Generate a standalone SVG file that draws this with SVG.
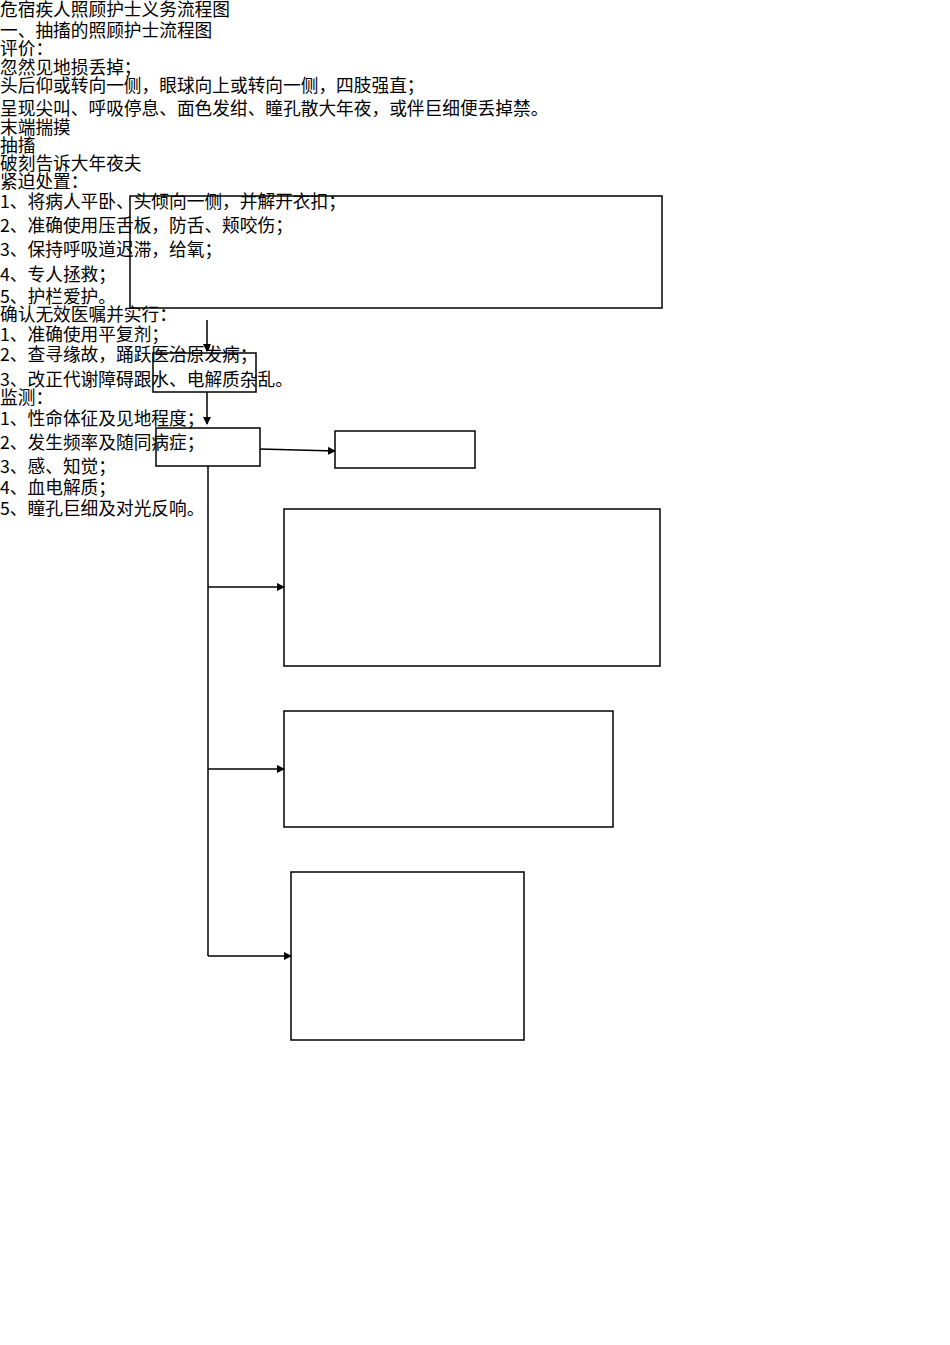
<svg xmlns="http://www.w3.org/2000/svg" width="950" height="1345" viewBox="0 0 950 1345">
<style>
text{font-family:"Noto Sans CJK SC","Liberation Sans",sans-serif;font-size:17.7px;fill:#000}
.b{fill:none;stroke:#000;stroke-width:1.5}
.c{fill:none;stroke:#000;stroke-width:1.5}
</style>
<defs><marker id="a" markerWidth="8" markerHeight="8" refX="7" refY="4" orient="auto" markerUnits="userSpaceOnUse"><path d="M0,0L8,4L0,8z"/></marker></defs>
<rect width="950" height="1345" fill="#fff"/>
<g id="n1"><rect class="b" x="130" y="196" width="532" height="112"/></g>
<g id="n2"><rect class="b" x="153" y="353" width="103" height="39"/></g>
<g id="n3"><rect class="b" x="156" y="428" width="104" height="38"/></g>
<g id="n4"><rect class="b" x="335" y="431" width="140" height="37"/></g>
<g id="n5"><rect class="b" x="284" y="509" width="376" height="157"/></g>
<g id="n6"><rect class="b" x="284" y="711" width="329" height="116"/></g>
<g id="n7"><rect class="b" x="291" y="872" width="233" height="168"/></g>
<g id="connectors">
<path class="c" d="M207,320V351" marker-end="url(#a)"/>
<path class="c" d="M207,392V424" marker-end="url(#a)"/>
<path class="c" d="M260,449L335,451" marker-end="url(#a)"/>
<path class="c" d="M208,466V956"/>
<path class="c" d="M208,587H284" marker-end="url(#a)"/>
<path class="c" d="M208,769H284" marker-end="url(#a)"/>
<path class="c" d="M208,956H291" marker-end="url(#a)"/>
</g>
<g id="texts">
<text x="0" y="16">危宿疾人照顾护士义务流程图</text>
<text x="0" y="37">一、抽搐的照顾护士流程图</text>
<text x="0" y="55">评价：</text>
<text x="0" y="74">忽然见地损丢掉；</text>
<text x="0" y="92">头后仰或转向一侧，眼球向上或转向一侧，四肢强直；</text>
<text x="0" y="115">呈现尖叫、呼吸停息、面色发绀、瞳孔散大年夜，或伴巨细便丢掉禁。</text>
<text x="0" y="134">末端揣摸</text>
<text x="0" y="152">抽搐</text>
<text x="0" y="170">破刻告诉大年夜夫</text>
<text x="0" y="188">紧迫处置：</text>
<text x="0" y="208">1、将病人平卧、头倾向一侧，并解开衣扣；</text>
<text x="0" y="232">2、准确使用压舌板，防舌、颊咬伤；</text>
<text x="0" y="256">3、保持呼吸道迟滞，给氧；</text>
<text x="0" y="281">4、专人拯救；</text>
<text x="0" y="303">5、护栏爱护。</text>
<text x="0" y="321">确认无效医嘱并实行：</text>
<text x="0" y="341">1、准确使用平复剂；</text>
<text x="0" y="361">2、查寻缘故，踊跃医治原发病；</text>
<text x="0" y="386">3、改正代谢障碍跟水、电解质杂乱。</text>
<text x="0" y="404">监测：</text>
<text x="0" y="425">1、性命体征及见地程度；</text>
<text x="0" y="449">2、发生频率及随同病症；</text>
<text x="0" y="473">3、感、知觉；</text>
<text x="0" y="494">4、血电解质；</text>
<text x="0" y="515">5、瞳孔巨细及对光反响。</text>
</g>
</svg>
